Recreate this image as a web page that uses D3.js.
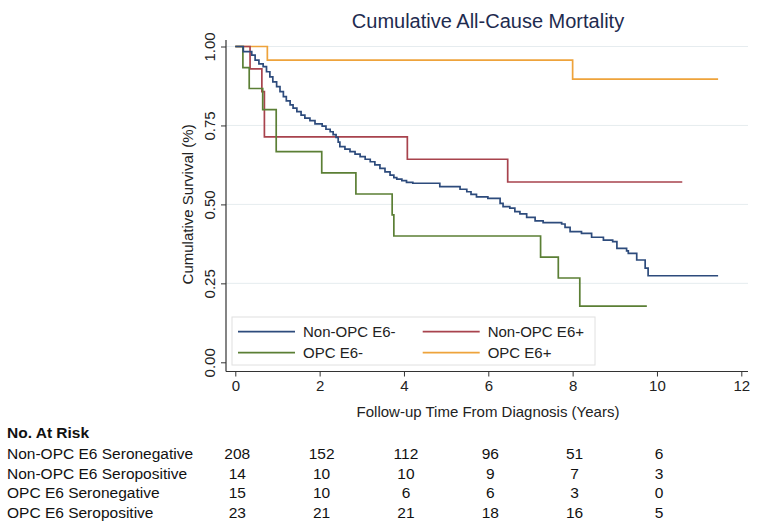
<!DOCTYPE html>
<html>
<head>
<meta charset="utf-8">
<script src="https://cdn.jsdelivr.net/npm/d3@7"></script>
<style>
  html, body { margin: 0; padding: 0; background: #fff; }
  svg { display: block; font-family: "Liberation Sans", Arial, sans-serif; }
</style>
</head>
<body>
<svg id="chart" width="762" height="532"></svg>
<script>
// ---------------- data ----------------
const title = "Cumulative All-Cause Mortality";
const xTitle = "Follow-up Time From Diagnosis (Years)";
const yTitle = "Cumulative Survival (%)";
const xTicks = [0, 2, 4, 6, 8, 10, 12];
const yTicks = [0, 0.25, 0.5, 0.75, 1.0];

const seriesNames = ["Non-OPC E6-", "Non-OPC E6+", "OPC E6-", "OPC E6+"];

const nonOpcNegTime = [0, 0.19, 0.39, 0.47, 0.56, 0.66, 0.74, 0.82, 0.89, 0.98, 1.06, 1.14, 1.21, 1.30, 1.37, 1.46,
  1.56, 1.65, 1.77, 1.89, 2.06, 2.15, 2.25, 2.32, 2.39, 2.44, 2.48, 2.60, 2.72, 2.84, 2.96, 3.08, 3.20, 3.31, 3.43,
  3.55, 3.67, 3.76, 3.83, 3.95, 4.06, 4.21, 4.85, 5.33, 5.49, 5.59, 5.72, 5.99, 6.28, 6.35, 6.51, 6.63, 6.75, 6.91,
  7.11, 7.30, 7.74, 7.82, 7.94, 8.21, 8.45, 8.73, 8.95, 9.05, 9.28, 9.32, 9.52, 9.72, 9.79, 11.45];
const nonOpcNegSurv = [1, 0.984, 0.973, 0.957, 0.945, 0.936, 0.920, 0.904, 0.888, 0.873, 0.857, 0.841, 0.828, 0.815, 0.805, 0.794,
  0.783, 0.773, 0.765, 0.755, 0.748, 0.738, 0.730, 0.721, 0.712, 0.697, 0.683, 0.675, 0.667, 0.659, 0.651, 0.643, 0.635, 0.625, 0.614,
  0.603, 0.593, 0.585, 0.580, 0.575, 0.570, 0.567, 0.556, 0.548, 0.540, 0.532, 0.524, 0.519, 0.503, 0.493, 0.488, 0.477, 0.470, 0.459,
  0.448, 0.442, 0.438, 0.427, 0.414, 0.408, 0.396, 0.387, 0.382, 0.361, 0.353, 0.345, 0.324, 0.298, 0.274, 0.274];

const nonOpcPosTime = [0, 0.35, 0.63, 0.69, 4.08, 6.46, 10.6];
const nonOpcPosSurv = [1, 0.929, 0.857, 0.714, 0.643, 0.571, 0.571];

const opcNegTime = [0, 0.18, 0.33, 0.65, 0.97, 2.05, 2.86, 3.72, 3.76, 7.24, 7.66, 8.17, 9.76];
const opcNegSurv = [1, 0.933, 0.867, 0.800, 0.667, 0.600, 0.533, 0.467, 0.400, 0.333, 0.267, 0.178, 0.178];

const opcPosTime = [0, 0.76, 8.0, 11.45];
const opcPosSurv = [1, 0.957, 0.897, 0.897];

const riskTimes = [0, 2, 4, 6, 8, 10];
const riskLabels = ["Non-OPC E6 Seronegative", "Non-OPC E6 Seropositive", "OPC E6 Seronegative", "OPC E6 Seropositive"];
const riskNonOpcNeg = [208, 152, 112, 96, 51, 6];
const riskNonOpcPos = [14, 10, 10, 9, 7, 3];
const riskOpcNeg = [15, 10, 6, 6, 3, 0];
const riskOpcPos = [23, 21, 21, 18, 16, 5];

// ---------------- drawing ----------------
const colors = ["#2d4b7c", "#a8434d", "#5b7f35", "#eea33b"];
const svg = d3.select("#chart");

const x = d3.scaleLinear().domain([0, 12]).range([235.3, 741.3]);
const y = d3.scaleLinear().domain([0, 1]).range([362.3, 46.5]);

const plotLeft = 226, plotRight = 748, plotTop = 40, plotBottom = 371.5;

// gridlines
svg.append("g").selectAll("line")
  .data(yTicks.filter(d => d > 0))
  .join("line")
  .attr("x1", plotLeft).attr("x2", plotRight)
  .attr("y1", d => y(d)).attr("y2", d => y(d))
  .attr("stroke", "#e6ecef").attr("stroke-width", 1);

// y axis
const yAxis = svg.append("g").attr("transform", `translate(${plotLeft},0)`)
  .call(d3.axisLeft(y).tickValues(yTicks).tickFormat(d3.format(".2f")).tickSize(5).tickSizeOuter(0));
yAxis.select(".domain").remove();
yAxis.append("line").attr("x1", 0).attr("x2", 0).attr("y1", plotTop).attr("y2", plotBottom)
  .attr("stroke", "#333").attr("stroke-width", 1.2);
yAxis.selectAll(".tick line").attr("stroke", "#333");
yAxis.selectAll(".tick text")
  .attr("font-size", 15).attr("fill", "#222")
  .attr("transform", "rotate(-90)")
  .attr("x", 0).attr("y", -11).attr("dy", 0)
  .attr("text-anchor", "middle");

// x axis
const xAxis = svg.append("g").attr("transform", `translate(0,${plotBottom})`)
  .call(d3.axisBottom(x).tickValues(xTicks).tickSize(5).tickSizeOuter(0));
xAxis.select(".domain").remove();
xAxis.append("line").attr("x1", plotLeft).attr("x2", plotRight).attr("y1", 0).attr("y2", 0)
  .attr("stroke", "#333").attr("stroke-width", 1.2);
xAxis.selectAll(".tick line").attr("stroke", "#333");
xAxis.selectAll(".tick text").attr("font-size", 15).attr("fill", "#222").attr("y", 9).attr("dy", "0.71em");

// titles
svg.append("text").attr("x", 488).attr("y", 28).attr("text-anchor", "middle")
  .attr("font-size", 20).attr("fill", "#1e2b4f").text(title);
svg.append("text").attr("x", 488).attr("y", 417).attr("text-anchor", "middle")
  .attr("font-size", 15).attr("fill", "#222").text(xTitle);
svg.append("text").attr("transform", `translate(193,${(y(0) + y(1)) / 2}) rotate(-90)`)
  .attr("text-anchor", "middle").attr("font-size", 15).attr("fill", "#222").text(yTitle);

// curves
const series = [
  { t: nonOpcNegTime, s: nonOpcNegSurv },
  { t: nonOpcPosTime, s: nonOpcPosSurv },
  { t: opcNegTime, s: opcNegSurv },
  { t: opcPosTime, s: opcPosSurv }
];
const line = d3.line().x(d => x(d[0])).y(d => y(d[1])).curve(d3.curveStepAfter);
// draw order: navy on top of others? draw orange, red, green, navy
[3, 1, 2, 0].forEach(i => {
  const pts = series[i].t.map((t, k) => [t, series[i].s[k]]);
  svg.append("path").datum(pts).attr("d", line)
    .attr("fill", "none").attr("stroke", colors[i]).attr("stroke-width", 1.7)
    .attr("stroke-linejoin", "miter");
});

// legend
const lg = svg.append("g");
lg.append("rect").attr("x", 232).attr("y", 317).attr("width", 363).attr("height", 48)
  .attr("fill", "#fff").attr("stroke", "#e0e0e0").attr("stroke-width", 1);
const legendPos = [[238, 331.7], [422.7, 331.7], [238, 352.7], [422.7, 352.7]];
seriesNames.forEach((name, i) => {
  const [lx, ly] = legendPos[i];
  lg.append("line").attr("x1", lx).attr("x2", lx + 57).attr("y1", ly).attr("y2", ly)
    .attr("stroke", colors[i]).attr("stroke-width", 1.7);
  lg.append("text").attr("x", lx + 65).attr("y", ly + 5.5).attr("font-size", 15).attr("fill", "#222").text(name);
});

// risk table
const rt = svg.append("g").attr("font-size", 15.5).attr("fill", "#111");
rt.append("text").attr("x", 7).attr("y", 438).attr("font-weight", "bold").text("No. At Risk");
const riskRows = [riskNonOpcNeg, riskNonOpcPos, riskOpcNeg, riskOpcPos];
const rowY = [459, 478.5, 498, 517.5];
riskRows.forEach((row, r) => {
  rt.append("text").attr("x", 7).attr("y", rowY[r]).text(riskLabels[r]);
  row.forEach((v, k) => {
    rt.append("text").attr("x", x(riskTimes[k]) + 2).attr("y", rowY[r])
      .attr("text-anchor", "middle").text(v);
  });
});
</script>
</body>
</html>
